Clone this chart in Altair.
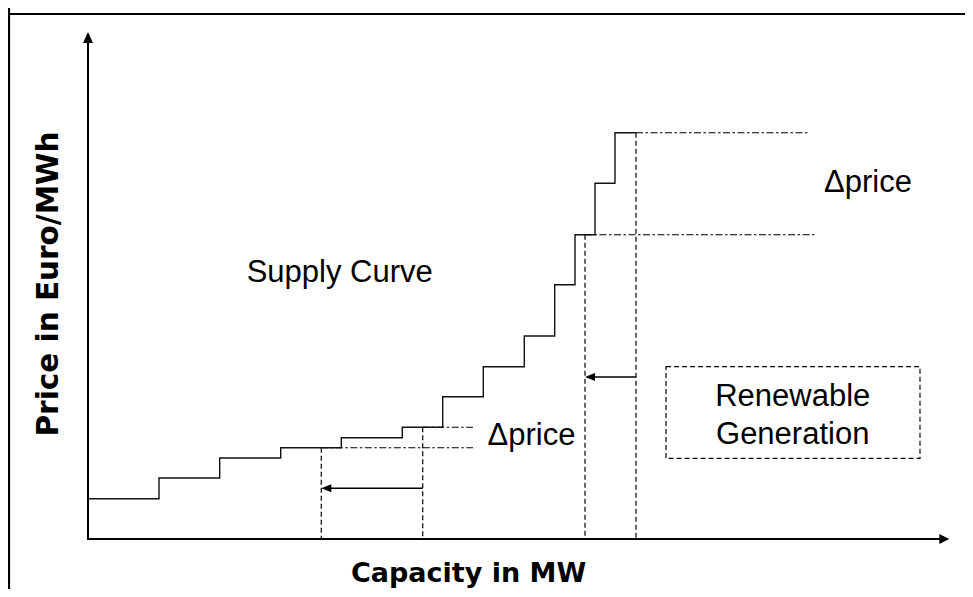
import altair as alt
import pandas as pd

# ---- data (capacity / price in schematic units) ----
step_capacity = [0, 7.1, 13.17, 19.27, 25.33, 31.43, 35.47, 39.53, 43.63, 46.67, 48.7, 50.7, 52.7, 54.8]
step_price = [4.03, 6.1, 8.1, 9.13, 10.13, 11.17, 14.23, 17.23, 20.3, 25.43, 30.43, 35.57, 40.63, 40.63]

vline_capacity = [23.33, 33.47, 49.7, 54.8]
vline_price = [9.13, 11.17, 30.43, 40.63]

hline_price = [11.17, 9.13, 40.63, 30.43]
hline_start = [33.47, 23.33, 54.8, 49.7]
hline_end = [38.5, 38.5, 72.0, 72.9]

arrow_price = [5.07, 16.2]
arrow_from = [33.47, 54.8]
arrow_to = [23.33, 49.7]

box_capacity = [57.8, 83.2]
box_price = [8.07, 17.23]

labels = ["Supply Curve", "Δprice", "Δprice", "Renewable", "Generation"]
label_capacity = [25.17, 44.35, 78.0, 70.47, 70.47]
label_price = [25.67, 9.4, 34.73, 13.33, 9.5]

x_title = ["Capacity in MW"]
y_title = ["Price in Euro/MWh"]
axis_capacity_max = 86.13
axis_price_max = 50.7

x_domain = [-8.0, 87.7]
y_domain = [-5.0, 53.1]
frame_capacity = -7.9
frame_price = 52.5

# ---- scales ----
xs = alt.Scale(domain=x_domain, nice=False, zero=False)
ys = alt.Scale(domain=y_domain, nice=False, zero=False)


def X(f):
    return alt.X(f, type="quantitative", scale=xs, axis=None)


def Y(f):
    return alt.Y(f, type="quantitative", scale=ys, axis=None)


BLACK = "#000000"

# frame
frame_v = alt.Chart(pd.DataFrame({"c": [frame_capacity], "p0": [y_domain[0]], "p1": [y_domain[1]]})).mark_rule(
    color=BLACK, strokeWidth=2.2).encode(x=X("c"), y=Y("p0"), y2="p1")
frame_h = alt.Chart(pd.DataFrame({"p": [frame_price], "c0": [x_domain[0]], "c1": [x_domain[1]]})).mark_rule(
    color=BLACK, strokeWidth=2.2).encode(y=Y("p"), x=X("c0"), x2="c1")

# axes
x_axis = alt.Chart(pd.DataFrame({"p": [0], "c0": [-0.1], "c1": [axis_capacity_max - 0.8]})).mark_rule(
    color=BLACK, strokeWidth=2).encode(y=Y("p"), x=X("c0"), x2="c1")
y_axis = alt.Chart(pd.DataFrame({"c": [0], "p0": [-0.1], "p1": [axis_price_max - 0.9]})).mark_rule(
    color=BLACK, strokeWidth=2).encode(x=X("c"), y=Y("p0"), y2="p1")
x_head = alt.Chart(pd.DataFrame({"c": [axis_capacity_max], "p": [0]})).mark_point(
    shape="M0,0L-2,-1L-2,1Z", size=100, filled=True, color=BLACK, opacity=1, strokeWidth=0).encode(
    x=X("c"), y=Y("p"))
y_head = alt.Chart(pd.DataFrame({"c": [0], "p": [axis_price_max]})).mark_point(
    shape="M0,0L-1,2.2L1,2.2Z", size=100, filled=True, color=BLACK, opacity=1, strokeWidth=0).encode(
    x=X("c"), y=Y("p"))

# supply curve
steps = alt.Chart(pd.DataFrame({"c": step_capacity, "p": step_price, "o": list(range(len(step_price)))})).mark_line(
    interpolate="step-after", color="#111111", strokeWidth=1.4).encode(x=X("c"), y=Y("p"), order="o:Q")

# dashed verticals
vlines = alt.Chart(pd.DataFrame({"c": vline_capacity, "p": vline_price, "z": [0] * len(vline_price)})).mark_rule(
    color=BLACK, strokeWidth=1.2, strokeDash=[5, 3]).encode(x=X("c"), y=Y("p"), y2="z")

# dash-dot horizontals
hlines = alt.Chart(pd.DataFrame({"p": hline_price, "s": hline_start, "e": hline_end})).mark_rule(
    color=BLACK, strokeWidth=1.1, strokeDash=[7, 2.5, 2.5, 2.5]).encode(y=Y("p"), x=X("s"), x2="e")

# shift arrows
arrow_df = pd.DataFrame({"p": arrow_price, "f": arrow_from, "t": arrow_to,
                         "tl": [t + 0.8 for t in arrow_to]})
arrow_lines = alt.Chart(arrow_df).mark_rule(color=BLACK, strokeWidth=1.6).encode(
    y=Y("p"), x=X("f"), x2="tl")
arrow_heads = alt.Chart(arrow_df).mark_point(
    shape="M0,0L2,-0.8L2,0.8Z", size=100, filled=True, color=BLACK, opacity=1, strokeWidth=0).encode(
    x=X("t"), y=Y("p"))

# dashed box
box = alt.Chart(pd.DataFrame({"c0": [box_capacity[0]], "c1": [box_capacity[1]],
                              "p0": [box_price[0]], "p1": [box_price[1]]})).mark_rect(
    fillOpacity=0, stroke=BLACK, strokeWidth=1.2, strokeDash=[5, 3]).encode(
    x=X("c0"), x2="c1", y=Y("p0"), y2="p1")

# labels
texts = alt.Chart(pd.DataFrame({"t": labels, "c": label_capacity, "p": label_price})).mark_text(
    font="Liberation Sans", fontSize=31, align="center", baseline="alphabetic", color=BLACK).encode(
    x=X("c"), y=Y("p"), text="t:N")

xt = alt.Chart(pd.DataFrame({"t": x_title, "c": [38.06], "p": [-4.27]})).mark_text(
    font="DejaVu Sans", fontWeight="bold", fontSize=27, align="center", baseline="alphabetic",
    color=BLACK).encode(x=X("c"), y=Y("p"), text="t:N")
yt = alt.Chart(pd.DataFrame({"t": y_title, "c": [-2.97], "p": [25.5]})).mark_text(
    font="DejaVu Sans", fontWeight="bold", fontSize=29.5, align="center", baseline="alphabetic",
    angle=270, color=BLACK).encode(x=X("c"), y=Y("p"), text="t:N")

chart = alt.layer(
    frame_v, frame_h, box, vlines, hlines, steps, x_axis, y_axis, x_head, y_head,
    arrow_lines, arrow_heads, texts, xt, yt
).properties(
    width=957, height=581, padding=0, autosize=alt.AutoSizeParams(type="none"), background="white"
).configure_view(stroke=None)

chart.save("out.html", embed_options={"renderer": "svg", "actions": False})
